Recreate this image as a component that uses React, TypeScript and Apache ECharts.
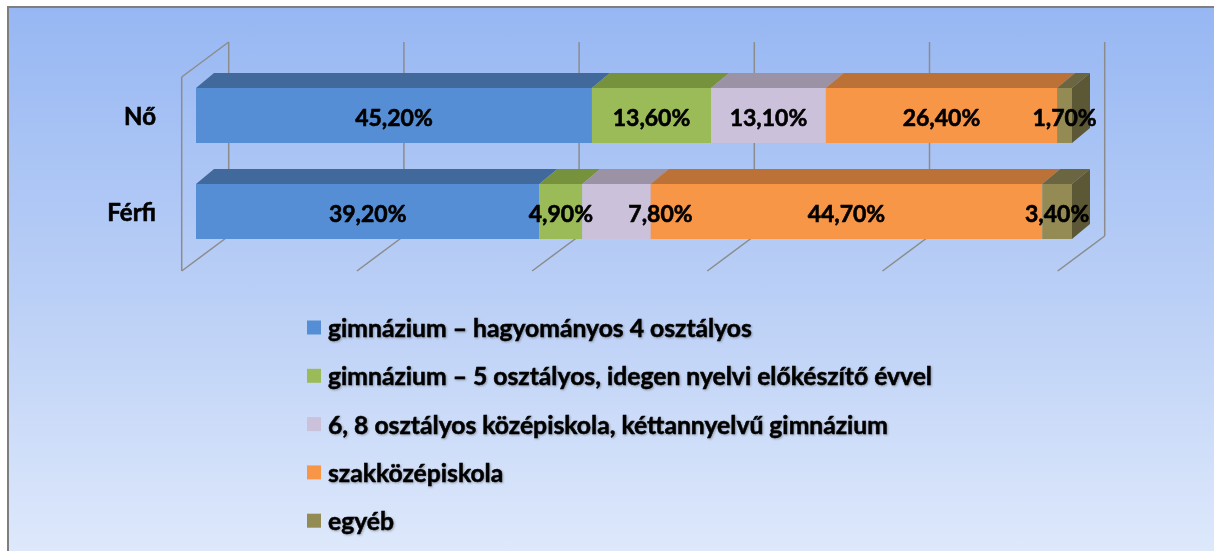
import React, { useEffect, useRef } from "react";
import * as echarts from "echarts";

const categories = ["Nő", "Férfi"];
const seriesNames = [
  "gimnázium – hagyományos 4 osztályos",
  "gimnázium – 5 osztályos, idegen nyelvi előkészítő évvel",
  "6, 8 osztályos középiskola, kéttannyelvű gimnázium",
  "szakközépiskola",
  "egyéb",
];
const gimn4 = [45.2, 39.2];
const gimn5 = [13.6, 4.9];
const kozep68 = [13.1, 7.8];
const szakkozep = [26.4, 44.7];
const egyeb = [1.7, 3.4];
const gridTicks = [0, 20, 40, 60, 80, 100];

const allValues = [gimn4, gimn5, kozep68, szakkozep, egyeb];
const frontColors = ["#558ed5", "#9bbb59", "#ccc1da", "#f79646", "#948a54"];
const topColors = ["#41699c", "#76923c", "#9c92a6", "#bc7236", "#6b6541"];
const sideColor = "#5c5836";
// label nudges (px) keyed by "seriesIndex-categoryIndex"
const labelNudge: Record<string, number> = { "2-1": 44 };

const DX = 18;
const DY = -15;
const BAR_H = 55;

function fmt(v: number) {
  return v.toFixed(2).replace(".", ",") + "%";
}

export default function App() {
  const ref = useRef<HTMLDivElement>(null);
  useEffect(() => {
    if (!ref.current) return;
    const chart = echarts.init(ref.current, undefined, { renderer: "svg" });

    const barSeries = allValues.map((vals, si) => {
      const data = vals.map((v, ci) => {
        let start = 0;
        for (let k = 0; k < si; k++) start += allValues[k][ci];
        return [ci, start, start + v, v];
      });
      return {
        type: "custom",
        name: seriesNames[si],
        z: 2,
        itemStyle: { color: frontColors[si] },
        encode: { x: [1, 2], y: 0 },
        data,
        renderItem: (params: any, api: any) => {
          const ci = api.value(0);
          const s = api.value(1);
          const e = api.value(2);
          const v = api.value(3);
          const p0 = api.coord([s, ci]);
          const p1 = api.coord([e, ci]);
          const x0 = p0[0];
          const x1 = p1[0];
          const yT = p0[1] - BAR_H / 2;
          const yB = yT + BAR_H;
          const children: any[] = [
            {
              type: "polygon",
              shape: {
                points: [
                  [x0, yT],
                  [x1, yT],
                  [x1 + DX, yT + DY],
                  [x0 + DX, yT + DY],
                ],
              },
              style: { fill: topColors[si] },
            },
            {
              type: "rect",
              shape: { x: x0, y: yT, width: x1 - x0, height: BAR_H },
              style: { fill: frontColors[si] },
            },
          ];
          if (si === allValues.length - 1) {
            children.push({
              type: "polygon",
              shape: {
                points: [
                  [x1, yT],
                  [x1 + DX, yT + DY],
                  [x1 + DX, yB + DY],
                  [x1, yB],
                ],
              },
              style: { fill: sideColor },
            });
          }
          const nudge = labelNudge[si + "-" + ci] || 0;
          children.push({
            type: "text",
            x: (x0 + x1) / 2 + nudge,
            y: (yT + yB) / 2 + 1,
            z2: 100,
            style: {
              text: fmt(v),
              align: "center",
              verticalAlign: "middle",
              fill: "#000",
              stroke: "#000",
              lineWidth: 0.6,
              font: "bold 23px Lato",
            },
          });
          return { type: "group", children };
        },
      };
    });

    const wallSeries = {
      type: "custom",
      name: "walls",
      z: 1,
      silent: true,
      encode: { x: 0, y: 1 },
      data: gridTicks.map((t) => [t, 0]),
      renderItem: (params: any, api: any) => {
        const v = api.value(0);
        const x = api.coord([v, 0])[0];
        const cs = params.coordSys;
        const top = cs.y;
        const bottom = cs.y + cs.height;
        const bx = x + 32.7;
        const fx = x - 14.3;
        const ls = { stroke: "#8c8c8c", lineWidth: 1.5 };
        const children: any[] = [
          { type: "line", shape: { x1: bx, y1: top - 25.5, x2: bx, y2: bottom - 23.5 }, style: ls },
          { type: "line", shape: { x1: fx, y1: bottom + 11.5, x2: bx, y2: bottom - 23.5 }, style: ls },
        ];
        if (v === gridTicks[0]) {
          children.push(
            { type: "line", shape: { x1: fx, y1: top + 9.5, x2: fx, y2: bottom + 11.5 }, style: ls },
            { type: "line", shape: { x1: fx, y1: top + 9.5, x2: bx, y2: top - 25.5 }, style: ls }
          );
        }
        return { type: "group", children };
      },
    };

    chart.setOption({
      animation: false,
      graphic: [
        {
          type: "rect",
          z: -10,
          silent: true,
          shape: { x: 8, y: 7, width: 1230, height: 570 },
          style: {
            fill: new echarts.graphic.LinearGradient(0, 0, 0, 1, [
              { offset: 0, color: "#97b7f3" },
              { offset: 0.5, color: "#bacff6" },
              { offset: 0.95, color: "#dde8fb" },
              { offset: 1, color: "#e0eafb" },
            ]),
            stroke: "#7f7f7f",
            lineWidth: 2,
          },
        },
      ],
      grid: { left: 196, right: 142, top: 67.5, height: 192, containLabel: false },
      xAxis: { type: "value", min: 0, max: 100, interval: 20, show: false },
      yAxis: {
        type: "category",
        data: categories,
        inverse: true,
        axisLine: { show: false },
        axisTick: { show: false },
        splitLine: { show: false },
        axisLabel: {
          margin: 40,
          color: "#000",
          fontFamily: "Lato",
          fontWeight: "bold",
          fontSize: 24,
          textBorderColor: "#000",
          textBorderWidth: 0.6,
        },
      },
      legend: {
        data: seriesNames,
        orient: "vertical",
        left: 302,
        top: 307.5,
        itemWidth: 14,
        itemHeight: 14,
        itemGap: 18.3,
        icon: "rect",
        textStyle: {
          fontFamily: "Lato",
          fontWeight: "bold",
          fontSize: 24.7,
          color: "#000",
          lineHeight: 30,
          padding: [0, 0, 0, 2],
          textBorderColor: "#000",
          textBorderWidth: 0.5,
          textShadowColor: "rgba(0,0,0,0.3)",
          textShadowBlur: 2,
          textShadowOffsetX: 1,
          textShadowOffsetY: 1,
        },
      },
      series: [wallSeries, ...barSeries],
    });
    return () => chart.dispose();
  }, []);
  return (
    <div
      ref={ref}
      style={{ position: "fixed", left: 0, top: 0, width: 1214, height: 551 }}
    />
  );
}
